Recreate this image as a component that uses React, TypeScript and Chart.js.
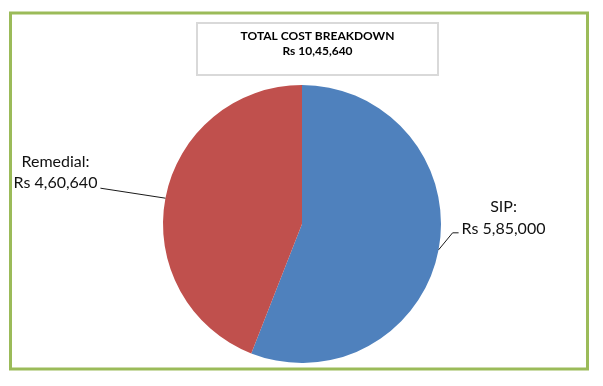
import React, { useEffect, useRef } from "react";
import { Chart, registerables } from "chart.js";

Chart.register(...registerables);

const categories: string[] = ["SIP", "Remedial"];
const values: number[] = [585000, 460640];
const sliceColors: string[] = ["#4F81BD", "#C0504D"];
const titleLine1 = "TOTAL COST BREAKDOWN";

function formatINR(n: number): string {
  const s = Math.round(n).toString();
  if (s.length <= 3) return s;
  const last3 = s.slice(-3);
  let rest = s.slice(0, -3);
  const parts: string[] = [];
  while (rest.length > 2) {
    parts.unshift(rest.slice(-2));
    rest = rest.slice(0, -2);
  }
  if (rest.length) parts.unshift(rest);
  return parts.join(",") + "," + last3;
}

const LABEL_FONT = "16px Lato, 'Open Sans', sans-serif";
const TITLE_FONT = "bold 12px Lato, 'Liberation Sans', sans-serif";

const decorPlugin = {
  id: "decor",
  beforeDraw(chart: any) {
    const ctx = chart.ctx;
    ctx.save();
    ctx.fillStyle = "#ffffff";
    ctx.fillRect(0, 0, chart.width, chart.height);
    // outer green frame
    ctx.strokeStyle = "#9BBB59";
    ctx.lineWidth = 3;
    ctx.strokeRect(10.5, 13, 577, 356);
    // title box
    ctx.strokeStyle = "#D9D9D9";
    ctx.lineWidth = 2;
    ctx.strokeRect(197, 23, 241, 52);
    ctx.fillStyle = "#000000";
    ctx.font = TITLE_FONT;
    ctx.textAlign = "center";
    ctx.textBaseline = "alphabetic";
    const total = values.reduce((a, b) => a + b, 0);
    ctx.fillText(titleLine1, 317.5, 39.5);
    ctx.fillText("Rs " + formatINR(total), 317.5, 55);
    ctx.restore();
  },
  afterDatasetsDraw(chart: any) {
    const ctx = chart.ctx;
    const meta = chart.getDatasetMeta(0);
    ctx.save();
    ctx.font = LABEL_FONT;
    ctx.fillStyle = "#111111";
    ctx.strokeStyle = "#1a1a1a";
    ctx.lineWidth = 1;
    meta.data.forEach((arc: any, i: number) => {
      const p = arc.getProps(["x", "y", "startAngle", "endAngle", "outerRadius"], true);
      const mid = (p.startAngle + p.endAngle) / 2;
      const ax = p.x + p.outerRadius * Math.cos(mid);
      const ay = p.y + p.outerRadius * Math.sin(mid);
      const right = Math.cos(mid) >= 0;
      const l1 = categories[i] + ":";
      const l2 = "Rs " + formatINR(values[i]);
      ctx.beginPath();
      if (right) {
        const ex = ax + 14;
        const ey = ay - 17;
        ctx.moveTo(ax, ay);
        ctx.lineTo(ex, ey);
        ctx.lineTo(ex + 6, ey);
        ctx.stroke();
        const tx = ex + 9;
        const w2 = ctx.measureText(l2).width;
        ctx.textAlign = "left";
        ctx.fillText(l2, tx, ey + 1);
        ctx.textAlign = "center";
        ctx.fillText(l1, tx + w2 / 2, ey + 1 - 21.6);
      } else {
        const ex = ax - 65;
        const ey = ay - 10;
        ctx.moveTo(ax, ay);
        ctx.lineTo(ex, ey);
        ctx.stroke();
        const tx = ex - 3;
        const w2 = ctx.measureText(l2).width;
        ctx.textAlign = "right";
        ctx.fillText(l2, tx, ey);
        ctx.textAlign = "center";
        ctx.fillText(l1, tx - w2 / 2, ey - 21.6);
      }
    });
    ctx.restore();
  },
};

export default function App() {
  const ref = useRef<HTMLCanvasElement | null>(null);
  useEffect(() => {
    if (!ref.current) return;
    const chart = new Chart(ref.current, {
      type: "pie",
      data: {
        labels: categories,
        datasets: [
          {
            data: values,
            backgroundColor: sliceColors,
            borderWidth: 0,
          },
        ],
      },
      options: {
        responsive: false,
        animation: false,
        layout: { padding: { top: 85, bottom: 23, left: 100, right: 99 } },
        plugins: {
          legend: { display: false },
          tooltip: { enabled: false },
          title: { display: false },
        },
      },
      plugins: [decorPlugin],
    });
    return () => chart.destroy();
  }, []);
  return (
    <div style={{ position: "absolute", left: 0, top: 0, width: 603, height: 386, background: "#fff" }}>
      <canvas ref={ref} width={603} height={386} style={{ display: "block" }} />
    </div>
  );
}
